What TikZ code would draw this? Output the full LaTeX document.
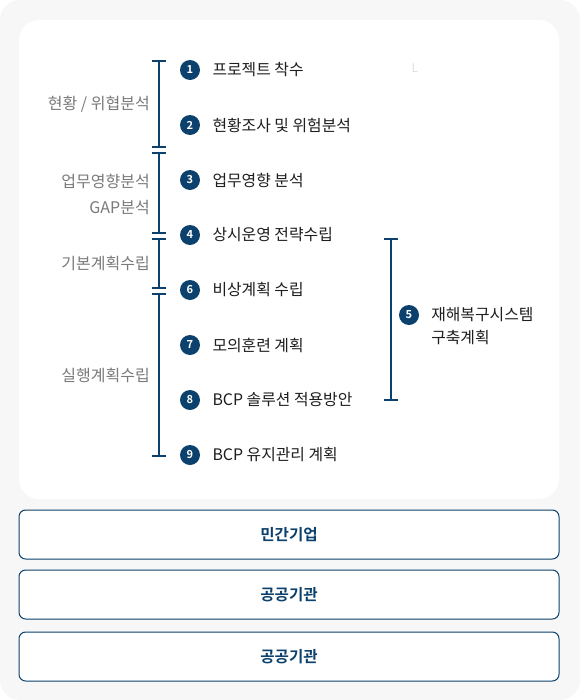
\documentclass[tikz,border=0pt]{standalone}
\usepackage{fontspec}
\setmainfont{Noto Sans CJK KR}[BoldFont={Noto Sans CJK KR Bold}]
\usetikzlibrary{positioning}

\definecolor{navy}{HTML}{0B416C}
\definecolor{bggray}{HTML}{F7F7F7}
\definecolor{labelgray}{HTML}{7A7A7A}
\definecolor{textdark}{HTML}{1E1E1E}

\newcommand*{\barx}{159}
\newcommand*{\numx}{190}
\newcommand*{\phasex}{150}

\begin{document}
\begin{tikzpicture}
[
	x=0.75pt,
	y=-0.75pt,
	numpt/.style={circle,fill=navy,text=white,inner sep=0pt,minimum size=15pt,font=\fontsize{8.3}{9}\selectfont\bfseries},
	steptext/.style={anchor=west,inner sep=0pt,text=textdark,font=\fontsize{11.9}{17.25}\selectfont},
	phase/.style={anchor=east,inner sep=0pt,text=labelgray,align=right,font=\fontsize{12}{19.5}\selectfont},
	bracket/.style={navy,line width=0.9pt},
	sector/.style={draw=navy,line width=0.75pt,rounded corners=5pt,fill=white,minimum width=405pt,minimum height=36.75pt,text=navy,font=\fontsize{11.7}{13}\selectfont\bfseries}
]

	\useasboundingbox (0,0) rectangle (580,700);

	% panels
	\fill[bggray,rounded corners=15pt] (0,0) rectangle (580,700);
	\fill[white,rounded corners=15pt] (19,20) rectangle (559,499);

	% left brackets
	\coordinate (s1t) at (\barx,61);
	\coordinate (s1b) at (\barx,147);
	\coordinate (s2t) at (\barx,153);
	\coordinate (s2b) at (\barx,233);
	\coordinate (s3t) at (\barx,239);
	\coordinate (s3b) at (\barx,288);
	\coordinate (s4t) at (\barx,294);
	\coordinate (s4b) at (\barx,456);
	\draw[bracket] (s1t) -- (s1b);
	\draw[bracket] (s2t) -- (s2b);
	\draw[bracket] (s3t) -- (s3b);
	\draw[bracket] (s4t) -- (s4b);
	\foreach \c in {s1t,s1b,s2t,s2b,s3t,s3b,s4t,s4b}
		\draw[bracket] ([xshift=-5.25pt]\c) -- ([xshift=5.25pt]\c);

	\node[phase] (p1) at (\phasex,104) {현황 / 위협분석};
	\node[phase] (p2) at (\phasex,194) {업무영향분석\\GAP분석};
	\node[phase] (p3) at (\phasex,263) {기본계획수립};
	\node[phase] (p4) at (\phasex,375) {실행계획수립};

	% steps
	\node[numpt] (n1) at (\numx,70) {1};
	\node[steptext,right=9pt of n1] (t1) {프로젝트 착수};
	\node[numpt] (n2) at (\numx,125) {2};
	\node[steptext,right=9pt of n2] (t2) {현황조사 및 위험분석};
	\node[numpt] (n3) at (\numx,180) {3};
	\node[steptext,right=9pt of n3] (t3) {업무영향 분석};
	\node[numpt] (n4) at (\numx,235) {4};
	\node[steptext,right=9pt of n4] (t4) {상시운영 전략수립};
	\node[numpt] (n6) at (\numx,290) {6};
	\node[steptext,right=9pt of n6] (t6) {비상계획 수립};
	\node[numpt] (n7) at (\numx,345) {7};
	\node[steptext,right=9pt of n7] (t7) {모의훈련 계획};
	\node[numpt] (n8) at (\numx,400) {8};
	\node[steptext,right=9pt of n8] (t8) {BCP 솔루션 적용방안};
	\node[numpt] (n9) at (\numx,455) {9};
	\node[steptext,right=9pt of n9] (t9) {BCP 유지관리 계획};

	\node[text=black!12,inner sep=0pt,font=\fontsize{9}{10}\selectfont] (stray) at (415,68) {L};

	% right bracket
	\coordinate (r5t) at (391,239);
	\coordinate (r5b) at (391,400);
	\draw[bracket] (r5t) -- (r5b);
	\draw[bracket] ([xshift=-5.25pt]r5t) -- ([xshift=5.25pt]r5t);
	\draw[bracket] ([xshift=-5.25pt]r5b) -- ([xshift=5.25pt]r5b);

	\node[numpt] (n5) at (409,315) {5};
	\node[steptext,align=left] (t5) at (431,326.5) {재해복구시스템\\구축계획};

	% sectors
	\node[sector] (b1) at (289,534.5) {민간기업};
	\node[sector] (b2) at (289,594.5) {공공기관};
	\node[sector] (b3) at (289,656.5) {공공기관};

\end{tikzpicture}
\end{document}
